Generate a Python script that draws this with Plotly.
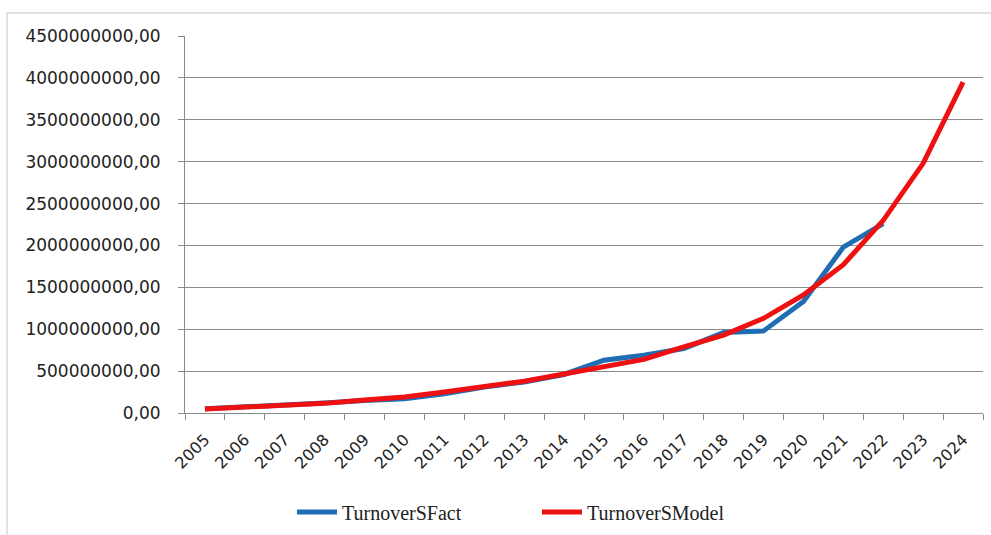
import plotly.graph_objects as go

# Annual turnover: actual figures and fitted model (values in currency units)
years = [str(y) for y in range(2005, 2025)]

turnover_fact = [
    50e6, 70e6, 90e6, 120e6, 150e6, 170e6, 230e6, 310e6, 370e6, 460e6,
    630e6, 690e6, 770e6, 960e6, 980e6, 1330e6, 1980e6, 2260e6, None, None,
]

turnover_model = [
    48e6, 68e6, 90e6, 115e6, 155e6, 190e6, 250e6, 310e6, 380e6, 465e6,
    550e6, 640e6, 790e6, 930e6, 1130e6, 1410e6, 1770e6, 2300e6, 2980e6, 3950e6,
]

y_ticks = [i * 500_000_000 for i in range(10)]
y_tick_labels = [f"{v},00" for v in y_ticks]

W, H = 991, 535
ML, MR, MT, MB = 185, 8, 36, 122
PW, PH = W - ML - MR, H - MT - MB


def px_x(p):
    return (p - ML) / PW


def px_y(p):
    return (H - MB - p) / PH


fig = go.Figure()
fig.add_trace(go.Scatter(
    x=years, y=turnover_fact, name="TurnoverSFact", mode="lines",
    line=dict(color="#1f6db3", width=5), connectgaps=False,
))
fig.add_trace(go.Scatter(
    x=years, y=turnover_model, name="TurnoverSModel", mode="lines",
    line=dict(color="#ee1111", width=5),
))

grid = "#8a8a8a"
fig.update_layout(
    width=W, height=H,
    margin=dict(l=ML, r=MR, t=MT, b=MB),
    paper_bgcolor="white", plot_bgcolor="white",
    showlegend=True,
    legend=dict(
        orientation="h", xref="container", yref="container",
        x=292 / W, xanchor="left", y=0.043, yanchor="middle",
        font=dict(family="Liberation Serif", size=20, color="#222"),
        itemwidth=40, entrywidth=190, entrywidthmode="pixels",
        bgcolor="rgba(0,0,0,0)",
    ),
    xaxis=dict(
        type="category", tickson="boundaries", ticks="outside", ticklen=6,
        tickcolor=grid, showline=True, linecolor=grid, linewidth=1,
        showgrid=False, tickangle=-45, ticklabelstandoff=10,
        tickfont=dict(family="DejaVu Sans", size=16, color="#222"),
        range=[-0.5, len(years) - 0.5],
    ),
    yaxis=dict(
        range=[0, 4.5e9], tickvals=y_ticks, ticktext=y_tick_labels,
        ticks="outside", ticklen=6, tickcolor=grid,
        showline=True, linecolor=grid, linewidth=1,
        showgrid=True, gridcolor=grid, gridwidth=1, zeroline=False,
        ticklabelstandoff=14,
        tickfont=dict(family="DejaVu Sans", size=17, color="#222"),
    ),
    shapes=[
        dict(type="rect", xref="paper", yref="paper",
             x0=px_x(7), x1=px_x(W + 5), y0=px_y(H + 5), y1=px_y(13),
             line=dict(color="#d9d9d9", width=1.5), layer="below"),
    ],
)

fig.write_html("out.html")
